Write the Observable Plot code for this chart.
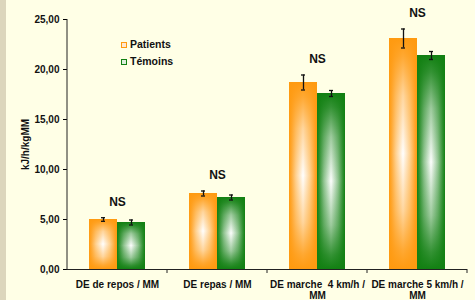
<!DOCTYPE html>
<html>
<head>
<meta charset="utf-8">
<script src="https://cdn.jsdelivr.net/npm/d3@7"></script>
<script src="https://cdn.jsdelivr.net/npm/@observablehq/plot@0.6"></script>
<style>
  html, body { margin: 0; padding: 0; background: #FFFFE6; }
  #wrap { position: relative; width: 475px; height: 300px; overflow: hidden; background: #FFFFE6; font-family: "Liberation Sans", Arial, sans-serif; }
  #strip { position: absolute; left: 0; top: 0; width: 6px; height: 300px; background: #DCD6BC; }
  .leg { position: absolute; font: bold 10.5px "Liberation Sans", Arial, sans-serif; color: #111; white-space: nowrap; }
  .sw { position: absolute; width: 4px; height: 4px; border: 1.5px solid; background: #FFFFFF; }
</style>
</head>
<body>
<div id="wrap"><div id="strip"></div></div>
<script>
const categories = ["DE de repos / MM", "DE repas / MM", "DE marche 4 km/h / MM", "DE marche 5 km/h / MM"];
const xLabels = ["DE de repos / MM", "DE repas / MM", "DE marche  4 km/h /\nMM", "DE marche 5 km/h /\nMM"];
const series = ["Patients", "Témoins"];
const patients = [5.0, 7.6, 18.7, 23.1];
const temoins = [4.7, 7.2, 17.6, 21.4];
const patientsErr = [0.18, 0.25, 0.75, 0.95];
const temoinsErr = [0.25, 0.25, 0.3, 0.4];
const yTicks = [0, 5, 10, 15, 20, 25];
const sigLabel = ["NS", "NS", "NS", "NS"];

const colors = {Patients: "#FF9A10", "Témoins": "#128012"};
const gid = {Patients: "o", "Témoins": "g"};

const data = [];
categories.forEach((c, i) => {
  data.push({cat: c, series: "Patients", value: patients[i], err: patientsErr[i]});
  data.push({cat: c, series: "Témoins", value: temoins[i], err: temoinsErr[i]});
});
const sig = categories.map((c, i) => ({cat: c, label: sigLabel[i],
  top: Math.max(patients[i] + patientsErr[i], temoins[i] + temoinsErr[i])}));

const fmt = v => v.toFixed(2).replace(".", ",");
const font = '"Liberation Sans", Arial, sans-serif';

const marks = [];
for (const s of series) {
  marks.push(Plot.barY(data, {filter: d => d.series === s, fx: "cat", x: "series", y: "value", fill: `url(#h-${gid[s]})`}));
  marks.push(Plot.barY(data, {filter: d => d.series === s, fx: "cat", x: "series", y: "value", fill: `url(#v-${gid[s]})`}));
}
marks.push(
  Plot.ruleY([0], {stroke: "#222", strokeWidth: 1}),
  Plot.ruleX(data, {fx: "cat", x: "series", y1: d => d.value - d.err, y2: d => d.value + d.err, stroke: "#111", strokeWidth: 1.3}),
  Plot.tickY(data, {fx: "cat", x: "series", y: d => d.value - d.err, stroke: "#111", strokeWidth: 1.3, insetLeft: 12, insetRight: 12}),
  Plot.tickY(data, {fx: "cat", x: "series", y: d => d.value + d.err, stroke: "#111", strokeWidth: 1.3, insetLeft: 12, insetRight: 12}),
  Plot.text(sig, {fx: "cat", y: "top", text: "label", dy: -16, fontSize: 12, fontWeight: "bold", fill: "#111"}),
  Plot.axisY({ticks: yTicks, tickFormat: fmt, tickSize: 4, tickPadding: 4, fontSize: 10, fontWeight: "bold", fill: "#111",
    label: "kJ/h/kgMM", labelAnchor: "center", labelArrow: "none", labelOffset: 46}),
  Plot.axisFx({anchor: "bottom", tickSize: 0, tickPadding: 10, fontSize: 10, fontWeight: "bold", fill: "#111", label: null,
    tickFormat: c => xLabels[categories.indexOf(c)], lineHeight: 1.15})
);

const plot = Plot.plot({
  width: 475, height: 300,
  marginLeft: 66, marginRight: 8, marginTop: 19, marginBottom: 31,
  style: {background: "transparent", fontFamily: font, overflow: "visible"},
  fx: {domain: categories, padding: 0},
  x: {domain: series, paddingInner: 0, paddingOuter: 0.73, axis: null},
  y: {domain: [0, 25]},
  marks
});

const svg = d3.select(plot);
svg.style("position", "absolute").style("left", "0px").style("top", "0px");
const defs = svg.insert("defs", ":first-child");
for (const s of series) {
  const c = colors[s];
  const mid = d3.interpolateRgb(c, "#FFFFFF");
  const h = defs.append("linearGradient").attr("id", `h-${gid[s]}`).attr("x1", 0).attr("x2", 1).attr("y1", 0).attr("y2", 0);
  [[0, 0], [0.08, 0.15], [0.25, 0.55], [0.5, 1], [0.75, 0.55], [0.92, 0.15], [1, 0]].forEach(([o, t]) =>
    h.append("stop").attr("offset", o).attr("stop-color", mid(t)));
  const v = defs.append("linearGradient").attr("id", `v-${gid[s]}`).attr("x1", 0).attr("x2", 0).attr("y1", 0).attr("y2", 1);
  [[0, 1], [0.08, 0.85], [0.25, 0.4], [0.5, 0], [0.75, 0.4], [0.92, 0.85], [1, 1]].forEach(([o, a]) =>
    v.append("stop").attr("offset", o).attr("stop-color", c).attr("stop-opacity", a));
}
// y axis line and category boundary ticks, from the plot's own scales
const fx = plot.scale("fx"), y = plot.scale("y");
const y0 = y.apply(0), y1 = y.apply(25);
const xl = fx.apply(categories[0]);
svg.append("line").attr("x1", xl).attr("x2", xl).attr("y1", y1).attr("y2", y0 + 1).attr("stroke", "#222");
for (const c of categories) {
  const xr = fx.apply(c) + fx.bandwidth;
  svg.append("line").attr("x1", xr).attr("x2", xr).attr("y1", y0).attr("y2", y0 + 4).attr("stroke", "#222");
}

const wrap = document.getElementById("wrap");
wrap.appendChild(plot);
// legend
series.forEach((s, i) => {
  const top = 40 + i * 17;
  const sw = document.createElement("div");
  sw.className = "sw"; sw.style.left = "121px"; sw.style.top = (top + 2) + "px"; sw.style.borderColor = colors[s];
  sw.style.background = i === 0 ? "#FFE8D0" : "#DDEEDD";
  wrap.appendChild(sw);
  const t = document.createElement("div");
  t.className = "leg"; t.style.left = "130px"; t.style.top = (top - 2) + "px"; t.textContent = s;
  wrap.appendChild(t);
});
</script>
</body>
</html>
